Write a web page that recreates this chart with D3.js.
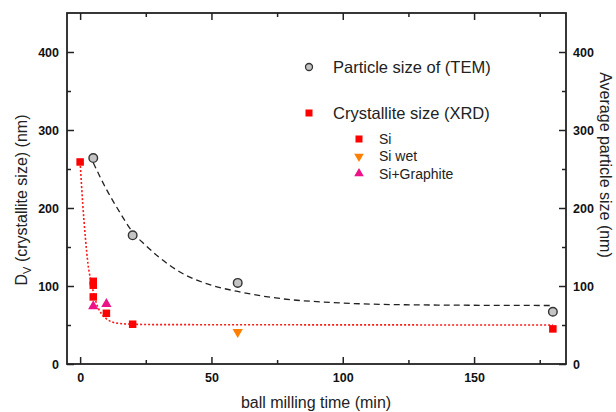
<!DOCTYPE html>
<html>
<head>
<meta charset="utf-8">
<script src="https://cdn.jsdelivr.net/npm/d3@7"></script>
<style>
  body{margin:0;background:#fff;}
  svg{display:block;font-family:Arial,"Liberation Sans",sans-serif;}
</style>
</head>
<body>
<div id="chart"></div>
<script>
// TEM particle size (circles)
const temTime=[5,20,60,180];
const temSize=[264,165,104,67];
// XRD crystallite size
const siTime=[0,5,5,5,10,20,180];
const siSize=[259,106,101,86,65,51,45];
const siWetTime=[60];
const siWetSize=[41];
const siGrTime=[5,10];
const siGrSize=[74,77];
// fit curves
const temFitTime=[5,10,15,20,25,30,38,50,60,76,95,114,140,180];
const temFitSize=[258,224,195,169,152,137,118,101,93,84,79,76.5,75.5,75];
const xrdFitTime=[0,1,2,3,4,5,6,8,10,12,15,20,30,180];
const xrdFitSize=[259,205,162,128,108,93,80,65,58,54,52,51,50.5,50];
// ticks
const xMajor=[0,50,100,150];
const xMinor=[25,75,125,175];
const yMajor=[0,100,200,300,400];
const yMinor=[50,150,250,350];

const w=616,h=412;
const L=67,R=566,T=13,B=364;

const svg=d3.select("#chart").append("svg").attr("width",w).attr("height",h);
const x=d3.scaleLinear().domain([-5,185]).range([L,R]);
const y=d3.scaleLinear().domain([0,450]).range([B,T]);

const axisColor="#222";
function styleAxis(g){
  g.select(".domain").remove();
  g.selectAll("line").attr("stroke",axisColor).attr("stroke-width",1.5);
  g.selectAll("text").attr("font-size",12.5).attr("font-weight","bold").attr("fill","#111");
}

// bottom
svg.append("g").attr("transform",`translate(0,${B})`)
  .call(d3.axisBottom(x).tickValues(xMajor).tickSizeInner(-7).tickSizeOuter(0).tickPadding(9)).call(styleAxis);
svg.append("g").attr("transform",`translate(0,${B})`)
  .call(d3.axisBottom(x).tickValues(xMinor).tickSizeInner(-4).tickSizeOuter(0).tickFormat("")).call(styleAxis);
// top
svg.append("g").attr("transform",`translate(0,${T})`)
  .call(d3.axisTop(x).tickValues(xMajor).tickSizeInner(-7).tickSizeOuter(0).tickFormat("")).call(styleAxis);
svg.append("g").attr("transform",`translate(0,${T})`)
  .call(d3.axisTop(x).tickValues(xMinor).tickSizeInner(-4).tickSizeOuter(0).tickFormat("")).call(styleAxis);
// left
svg.append("g").attr("transform",`translate(${L},0)`)
  .call(d3.axisLeft(y).tickValues(yMajor).tickSizeInner(-7).tickSizeOuter(0).tickPadding(8)).call(styleAxis);
svg.append("g").attr("transform",`translate(${L},0)`)
  .call(d3.axisLeft(y).tickValues(yMinor).tickSizeInner(-4).tickSizeOuter(0).tickFormat("")).call(styleAxis);
// right
svg.append("g").attr("transform",`translate(${R},0)`)
  .call(d3.axisRight(y).tickValues(yMajor).tickSizeInner(-7).tickSizeOuter(0).tickPadding(7)).call(styleAxis);
svg.append("g").attr("transform",`translate(${R},0)`)
  .call(d3.axisRight(y).tickValues(yMinor).tickSizeInner(-4).tickSizeOuter(0).tickFormat("")).call(styleAxis);

svg.append("rect").attr("x",L).attr("y",T).attr("width",R-L).attr("height",B-T)
  .attr("fill","none").attr("stroke",axisColor).attr("stroke-width",1.8);

// axis titles
svg.append("text").attr("x",316).attr("y",408).attr("text-anchor","middle")
  .attr("font-size",16).attr("fill","#222").text("ball milling time (min)");
const lt=svg.append("text").attr("transform","translate(27,200) rotate(-90)").attr("text-anchor","middle")
  .attr("font-size",16).attr("fill","#222");
lt.append("tspan").text("D");
lt.append("tspan").attr("font-size",11).attr("dy",4).text("V");
lt.append("tspan").attr("dy",-4).text(" (crystallite size) (nm)");
svg.append("text").attr("transform","translate(600,165) rotate(90)").attr("text-anchor","middle")
  .attr("font-size",16).attr("fill","#222").text("Average particle size (nm)");

// fit lines
const line=d3.line().x(d=>x(d[0])).y(d=>y(d[1])).curve(d3.curveMonotoneX);
svg.append("path").datum(d3.zip(temFitTime,temFitSize)).attr("d",line)
  .attr("fill","none").attr("stroke","#222").attr("stroke-width",1.3).attr("stroke-dasharray","6,4");
svg.append("path").datum(d3.zip(xrdFitTime,xrdFitSize)).attr("d",line)
  .attr("fill","none").attr("stroke","#ff1a1a").attr("stroke-width",1.6).attr("stroke-dasharray","2,2");

const red="#ff0000",orange="#ff8000",pink="#ee1289";
const sq=7.5;
// markers
svg.selectAll(".tem").data(d3.zip(temTime,temSize)).enter().append("circle")
  .attr("cx",d=>x(d[0])).attr("cy",d=>y(d[1])).attr("r",4.3)
  .attr("fill","#c4c4c4").attr("stroke","#333").attr("stroke-width",1.4);
svg.selectAll(".si").data(d3.zip(siTime,siSize)).enter().append("rect")
  .attr("x",d=>x(d[0])-sq/2).attr("y",d=>y(d[1])-sq/2).attr("width",sq).attr("height",sq).attr("fill",red);
const triUp=d3.symbol().type(d3.symbolTriangle).size(46);
svg.selectAll(".wet").data(d3.zip(siWetTime,siWetSize)).enter().append("path")
  .attr("d",triUp).attr("transform",d=>`translate(${x(d[0])},${y(d[1])}) rotate(180)`).attr("fill",orange);
svg.selectAll(".gr").data(d3.zip(siGrTime,siGrSize)).enter().append("path")
  .attr("d",triUp).attr("transform",d=>`translate(${x(d[0])},${y(d[1])})`).attr("fill",pink);

// legend
const lg=svg.append("g");
lg.append("circle").attr("cx",309).attr("cy",67).attr("r",3.5)
  .attr("fill","#c4c4c4").attr("stroke","#333").attr("stroke-width",1.3);
lg.append("text").attr("x",333).attr("y",67).attr("dy","0.35em").attr("font-size",16.5).attr("fill","#222").text("Particle size of (TEM)");
lg.append("rect").attr("x",309-3.5).attr("y",113-3.5).attr("width",7).attr("height",7).attr("fill",red);
lg.append("text").attr("x",333).attr("y",113).attr("dy","0.35em").attr("font-size",16.5).attr("fill","#222").text("Crystallite size (XRD)");
const legSym=d3.symbol().type(d3.symbolTriangle).size(40);
lg.append("rect").attr("x",359-3.5).attr("y",139-3.5).attr("width",7).attr("height",7).attr("fill",red);
lg.append("path").attr("d",legSym).attr("transform","translate(359,156.5) rotate(180)").attr("fill",orange);
lg.append("path").attr("d",legSym).attr("transform","translate(359,173.5)").attr("fill",pink);
const subs=["Si","Si wet","Si+Graphite"];
lg.selectAll(".sub").data(subs).enter().append("text")
  .attr("x",379).attr("y",(d,i)=>139+i*17.3).attr("dy","0.35em").attr("font-size",14).attr("fill","#222").text(d=>d);
</script>
</body>
</html>
